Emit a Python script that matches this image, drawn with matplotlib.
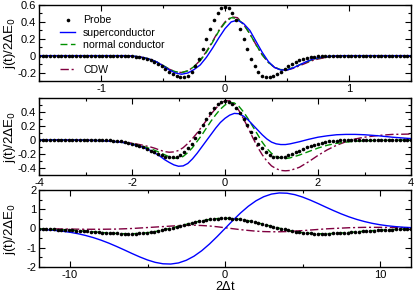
import numpy as np
import matplotlib
matplotlib.use("Agg")
import matplotlib.pyplot as plt
from matplotlib.lines import Line2D
from matplotlib.ticker import MultipleLocator

plt.rcParams['font.family'] = ['Liberation Sans', 'DejaVu Sans']
plt.rcParams['axes.unicode_minus'] = False

# ---------------- Panel 1 ----------------
x1_probe = np.round(np.arange(-1.5, 1.5001, 0.03), 3)
probe1 = [0.0]*21 + [-0.001, -0.002, -0.003, -0.004, -0.007, -0.011, -0.017, -0.025, -0.036, -0.052,
          -0.071, -0.095, -0.124, -0.155, -0.188, -0.218, -0.243, -0.257, -0.256, -0.235,
          -0.192, -0.124, -0.034, 0.074, 0.192, 0.310, 0.418, 0.505, 0.561, 0.580,
          0.561, 0.505, 0.418, 0.310, 0.192, 0.074, -0.034, -0.124, -0.192, -0.235,
          -0.256, -0.257, -0.243, -0.218, -0.188, -0.155, -0.124, -0.095, -0.071, -0.052,
          -0.036, -0.025, -0.017, -0.011, -0.007, -0.004, -0.003, -0.002, -0.001] + [0.0]*21

x1 = np.round(np.arange(-1.5, 1.5001, 0.05), 3)
super1 = [0.0]*15 + [-0.005,
          -0.012, -0.025, -0.045, -0.075, -0.12, -0.17, -0.205, -0.22, -0.205, -0.165,
          -0.11, -0.02, 0.09, 0.21, 0.32, 0.40, 0.42, 0.38, 0.30, 0.17,
          0.04, -0.07, -0.14, -0.17, -0.17, -0.145, -0.11, -0.075, -0.045, -0.025,
          -0.013, -0.006, -0.002] + [0.0]*12
normal1 = [0.0]*15 + [-0.005,
           -0.012, -0.025, -0.045, -0.075, -0.115, -0.16, -0.19, -0.20, -0.18, -0.13,
           -0.06, 0.04, 0.16, 0.29, 0.39, 0.45, 0.44, 0.37, 0.26, 0.13,
           0.01, -0.08, -0.14, -0.165, -0.165, -0.14, -0.11, -0.08, -0.05, -0.03,
           -0.016, -0.008, -0.003] + [0.0]*12
cdw1 = [0.0]*15 + [-0.005,
        -0.012, -0.025, -0.045, -0.075, -0.115, -0.16, -0.19, -0.20, -0.18, -0.13,
        -0.055, 0.05, 0.17, 0.30, 0.40, 0.46, 0.45, 0.37, 0.26, 0.13,
        0.01, -0.08, -0.14, -0.165, -0.17, -0.15, -0.12, -0.09, -0.06, -0.04,
        -0.025, -0.014, -0.007, -0.003, -0.001] + [0.0]*10

# ---------------- Panel 2 ----------------
x2_probe = np.round(np.arange(-4, 4.0001, 0.08), 3)
probe2 = [0.0]*15 + [-0.001, -0.002, -0.003, -0.005, -0.007, -0.010, -0.015, -0.021, -0.028, -0.038,
          -0.050, -0.065, -0.082, -0.102, -0.125, -0.150, -0.175, -0.199, -0.221, -0.238,
          -0.248, -0.249, -0.237, -0.213, -0.174, -0.120, -0.052, 0.028, 0.116, 0.208,
          0.299, 0.384, 0.457, 0.512, 0.548, 0.560,
          0.548, 0.512, 0.457, 0.384, 0.299, 0.208, 0.116, 0.028, -0.052, -0.120,
          -0.174, -0.213, -0.237, -0.249, -0.248, -0.238, -0.221, -0.199, -0.175, -0.150,
          -0.125, -0.102, -0.082, -0.065, -0.050, -0.038, -0.028, -0.021, -0.015, -0.010,
          -0.007, -0.005, -0.003, -0.002, -0.001] + [0.0]*15

x2 = [-4.0, -3.5, -3.0, -2.6, -2.4, -2.2, -2.0, -1.8, -1.6,
      -1.5, -1.4, -1.3, -1.2, -1.1, -1.0, -0.9, -0.8, -0.7, -0.6,
      -0.5, -0.4, -0.3, -0.2, -0.1, 0.0, 0.1, 0.2, 0.3, 0.4,
      0.5, 0.6, 0.7, 0.8, 0.9, 1.0, 1.1, 1.2, 1.3, 1.4,
      1.6, 1.8, 2.0, 2.2, 2.4, 2.6, 2.8, 3.0, 3.3, 3.6, 4.0]
super2 = [0.0, 0.0, -0.003, -0.01, -0.02, -0.035, -0.06, -0.095, -0.15,
          -0.19, -0.23, -0.28, -0.32, -0.355, -0.375, -0.37, -0.335, -0.27, -0.19,
          -0.10, -0.01, 0.08, 0.17, 0.25, 0.31, 0.355, 0.38, 0.375, 0.34,
          0.285, 0.215, 0.145, 0.075, 0.015, -0.03, -0.055, -0.065, -0.065, -0.055,
          -0.025, 0.01, 0.04, 0.06, 0.075, 0.08, 0.08, 0.075, 0.06, 0.04, 0.02]
normal2 = [0.0, 0.0, -0.003, -0.01, -0.02, -0.035, -0.055, -0.085, -0.125,
           -0.15, -0.18, -0.21, -0.24, -0.26, -0.26, -0.235, -0.18, -0.11, -0.02,
           0.07, 0.17, 0.27, 0.36, 0.44, 0.50, 0.535, 0.53, 0.48, 0.40,
           0.30, 0.19, 0.08, -0.03, -0.12, -0.19, -0.235, -0.26, -0.265, -0.255,
           -0.215, -0.165, -0.115, -0.075, -0.047, -0.03, -0.018, -0.011, -0.005, -0.002, 0.0]
cdw2 = [0.0, 0.0, -0.003, -0.01, -0.018, -0.03, -0.045, -0.07, -0.10,
        -0.12, -0.145, -0.165, -0.175, -0.17, -0.15, -0.11, -0.05, 0.02, 0.10,
        0.19, 0.28, 0.37, 0.45, 0.52, 0.56, 0.56, 0.51, 0.42, 0.30,
        0.17, 0.03, -0.10, -0.21, -0.30, -0.37, -0.41, -0.435, -0.44, -0.435,
        -0.39, -0.31, -0.22, -0.14, -0.075, -0.025, 0.015, 0.04, 0.065, 0.08, 0.085]

# ---------------- Panel 3 ----------------
x3_probe = np.round(np.arange(-12, 12.0001, 0.24), 3)
probe3 = [-0.024, -0.029, -0.033, -0.040, -0.047, -0.054, -0.063, -0.072, -0.083, -0.094,
          -0.106, -0.120, -0.133, -0.147, -0.163, -0.178, -0.193, -0.208, -0.222, -0.236,
          -0.247, -0.258, -0.266, -0.270, -0.271, -0.270, -0.265, -0.254, -0.239, -0.220,
          -0.196, -0.166, -0.131, -0.091, -0.047, 0.0, 0.045, 0.091, 0.139, 0.187,
          0.236, 0.283, 0.329, 0.372, 0.411, 0.446, 0.475, 0.499, 0.516, 0.526, 0.530,
          0.526, 0.516, 0.499, 0.475, 0.446, 0.411, 0.372, 0.329, 0.283, 0.236,
          0.187, 0.139, 0.091, 0.045, 0.0, -0.047, -0.091, -0.131, -0.166, -0.196,
          -0.220, -0.239, -0.254, -0.265, -0.270, -0.271, -0.270, -0.266, -0.258, -0.247,
          -0.236, -0.222, -0.208, -0.193, -0.178, -0.163, -0.147, -0.133, -0.120, -0.106,
          -0.094, -0.083, -0.072, -0.063, -0.054, -0.047, -0.040, -0.033, -0.029, -0.024]
normal3 = list(probe3)

x3 = np.round(np.arange(-12, 12.0001, 0.5), 2)
super3 = [-0.045, -0.067, -0.098, -0.140, -0.196, -0.268, -0.361, -0.472, -0.605, -0.759,
          -0.931, -1.112, -1.299, -1.476, -1.635, -1.759, -1.833, -1.846, -1.789, -1.652,
          -1.439, -1.153, -0.805, -0.414, 0.0,
          0.414, 0.805, 1.153, 1.439, 1.652, 1.789, 1.846, 1.833, 1.759, 1.635,
          1.476, 1.299, 1.112, 0.931, 0.759, 0.605, 0.472, 0.361, 0.268, 0.196,
          0.140, 0.098, 0.067, 0.045]
cdw3 = [-0.01, -0.015, -0.02, -0.025, -0.03, -0.035, -0.04, -0.04, -0.04, -0.035,
        -0.03, -0.015, 0.0, 0.025, 0.05, 0.075, 0.10, 0.125, 0.15, 0.165,
        0.17, 0.155, 0.13, 0.09, 0.04,
        -0.01, -0.06, -0.10, -0.14, -0.16, -0.17, -0.17, -0.16, -0.135, -0.11,
        -0.08, -0.05, -0.02, 0.0, 0.02, 0.04, 0.05, 0.06, 0.06, 0.06,
        0.055, 0.05, 0.045, 0.04]

labels = ["Probe", "superconductor", "normal conductor", "CDW"]

C_BLUE = '#0000ff'
C_GREEN = '#009000'
C_CDW = '#800040'
MS = 2.6

fig = plt.figure(figsize=(4.15, 2.93), dpi=100)
L, W = 39/415, 372/415
ax1 = fig.add_axes([L, 1-81/293, W, 76/293])
ax2 = fig.add_axes([L, 1-175/293, W, 77/293])
ax3 = fig.add_axes([L, 1-267/293, W, 77/293])

def draw(ax, xp, p, xl, s, n, c):
    ax.plot(xl, c, color=C_CDW, lw=1.0, dashes=(6, 2, 1.5, 2))
    ax.plot(xl, n, color=C_GREEN, lw=1.0, dashes=(5, 2.5))
    ax.plot(xl, s, color=C_BLUE, lw=1.0)
    ax.plot(xp, p, 'o', color='black', ms=MS, mew=0)

draw(ax1, x1_probe, probe1, x1, super1, normal1, cdw1)
draw(ax2, x2_probe, probe2, x2, super2, normal2, cdw2)
ax3.plot(x3, cdw3, color=C_CDW, lw=1.0, dashes=(6, 2, 1.5, 2))
ax3.plot(x3, super3, color=C_BLUE, lw=1.0)
ax3.plot(x3_probe, normal3, color=C_GREEN, lw=1.0, dashes=(5, 2.5))
ax3.plot(x3_probe, probe3, 'o', color='black', ms=MS, mew=0)

ax1.set_xlim(-1.5, 1.5); ax1.set_ylim(-0.3, 0.6)
ax1.set_xticks([-1, 0, 1]); ax1.set_yticks([-0.2, 0, 0.2, 0.4, 0.6])
ax1.set_yticklabels(["-0.2", "0", "0.2", "0.4", "0.6"])
ax1.xaxis.set_minor_locator(MultipleLocator(0.5)); ax1.yaxis.set_minor_locator(MultipleLocator(0.1))

ax2.set_xlim(-4, 4); ax2.set_ylim(-0.5, 0.6)
ax2.set_xticks([-4, -2, 0, 2, 4]); ax2.set_yticks([-0.4, -0.2, 0, 0.2, 0.4])
ax2.set_yticklabels(["-0.4", "-0.2", "0", "0.2", "0.4"])
ax2.xaxis.set_minor_locator(MultipleLocator(1)); ax2.yaxis.set_minor_locator(MultipleLocator(0.1))

ax3.set_xlim(-12, 12); ax3.set_ylim(-2, 2)
ax3.set_xticks([-10, 0, 10]); ax3.set_yticks([-2, -1, 0, 1, 2])
ax3.xaxis.set_minor_locator(MultipleLocator(5)); ax3.yaxis.set_minor_locator(MultipleLocator(0.5))

for ax in (ax1, ax2, ax3):
    ax.tick_params(which='both', direction='in', top=True, right=True, labelsize=8, pad=2)
    ax.tick_params(which='major', length=4, width=0.8)
    ax.tick_params(which='minor', length=2.5, width=0.8)
    for sp in ax.spines.values():
        sp.set_linewidth(1.0)
    ax.set_ylabel(r"j(t)/2$\Delta$E$_0$", fontsize=9.5)
    ax.yaxis.set_label_coords(-0.056, 0.5)

ax3.set_xlabel(r"2$\Delta$t", fontsize=9, labelpad=0)

handles = [Line2D([], [], marker='o', ls='none', color='black', ms=MS, mew=0),
           Line2D([], [], color=C_BLUE, lw=1.0),
           Line2D([], [], color=C_GREEN, lw=1.0, dashes=(5, 2.5)),
           Line2D([], [], ls='none'),
           Line2D([], [], color=C_CDW, lw=1.0, dashes=(6, 2, 1.5, 2))]
ax1.legend(handles, [labels[0], labels[1], labels[2], "", labels[3]], loc='upper left',
           bbox_to_anchor=(0.045, 0.92), frameon=False, fontsize=7.6, handlelength=1.45,
           handletextpad=0.75, labelspacing=0.22, borderaxespad=0)

fig.savefig("out.png", dpi=100)
